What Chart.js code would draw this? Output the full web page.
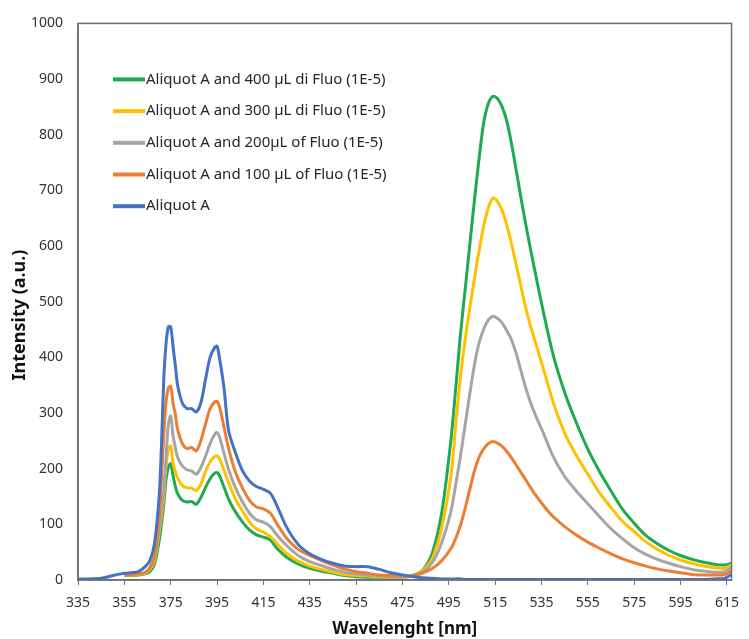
<!DOCTYPE html>
<html>
<head>
<meta charset="utf-8">
<title>Fluorescence spectra</title>
<script src="https://cdn.jsdelivr.net/npm/chart.js@4.4.1/dist/chart.umd.min.js"></script>
<style>
  html, body { margin: 0; padding: 0; background: #fff; }
  #wrap { width: 749px; height: 639px; }
</style>
</head>
<body>
<div id="wrap"><canvas id="spectrumChart" width="749" height="639"></canvas></div>
<script>
// Wavelength (nm), one row of 10 per line
const wavelengths = [
  335, 340, 345, 350, 355, 358, 361, 364, 366, 368,
  370, 371, 372, 373, 374, 375, 376, 377, 378, 380,
  382, 384, 386, 388, 390, 392, 394, 395, 396, 398,
  400, 403, 406, 409, 412, 415, 418, 421, 425, 430,
  435, 440, 445, 450, 455, 460, 465, 470, 475, 480,
  484, 488, 492, 496, 498, 500, 502, 504, 506, 508,
  510, 512, 514, 516, 518, 520, 522, 524, 526, 528,
  530, 532, 536, 540, 545, 550, 555, 560, 565, 570,
  575, 580, 585, 590, 595, 600, 605, 610, 614, 617
];

// Intensity (a.u.) per series
const aliquotA = [
  2, 2, 3, 8, 12, 13, 15, 24, 35, 65,
  150, 240, 360, 425, 455, 455, 420, 385, 350, 318,
  308, 308, 302, 318, 360, 400, 418, 420, 400, 345,
  268, 228, 196, 178, 168, 163, 156, 132, 95, 64,
  47, 37, 30, 25, 24, 24, 19, 13, 9, 6,
  4, 3, 2, 2, 2, 2, 1, 1, 1, 1,
  1, 1, 1, 1, 1, 1, 1, 1, 1, 1,
  1, 1, 1, 1, 1, 1, 1, 1, 1, 1,
  1, 1, 1, 1, 1, 1, 1, 2, 3, 10
];

const fluo100 = [
  null, null, null, null, 10, 10, 11, 14, 22, 45,
  110, 180, 260, 320, 345, 348, 318, 298, 270, 245,
  236, 238, 232, 250, 280, 308, 320, 321, 312, 275,
  236, 193, 165, 143, 131, 128, 120, 100, 75, 55,
  44, 35, 27, 20, 15, 12, 9, 8, 7, 8,
  13, 21, 35, 57, 75, 98, 128, 162, 195, 220,
  235, 245, 249, 246, 240, 231, 220, 207, 194, 181,
  168, 155, 133, 114, 96, 81, 68, 57, 47, 38,
  31, 25, 20, 16, 13, 10, 9, 9, 10, 16
];

const fluo200 = [
  null, null, null, null, 10, 10, 11, 13, 20, 40,
  90, 125, 160, 220, 280, 295, 260, 238, 220, 205,
  198, 196, 190, 202, 222, 245, 262, 265, 258, 228,
  198, 165, 140, 120, 108, 104, 96, 80, 62, 44,
  33, 26, 19, 14, 11, 9, 7, 6, 6, 7,
  15, 32, 68, 125, 172, 222, 277, 333, 385, 425,
  450, 467, 474, 470, 462, 448, 432, 408, 378, 348,
  322, 300, 262, 222, 186, 160, 137, 114, 92, 74,
  58, 46, 37, 30, 24, 19, 16, 14, 15, 22
];

const fluo300 = [
  null, null, null, null, 9, 9, 10, 12, 18, 35,
  85, 115, 150, 205, 235, 241, 210, 195, 183, 170,
  166, 165, 161, 172, 195, 212, 222, 223, 218, 197,
  175, 145, 124, 104, 92, 86, 78, 65, 48, 34,
  25, 19, 14, 10, 8, 7, 6, 5, 5, 8,
  18, 40, 95, 190, 280, 365, 430, 488, 540, 590,
  635, 668, 686, 680, 664, 638, 605, 568, 530, 492,
  460, 432, 377, 320, 264, 224, 190, 157, 130, 105,
  87, 69, 55, 44, 36, 30, 25, 22, 21, 27
];

const fluo400 = [
  null, null, null, null, 8, 8, 9, 11, 15, 28,
  70, 100, 135, 180, 203, 209, 188, 168, 155, 143,
  140, 141, 136, 148, 166, 182, 192, 193, 188, 167,
  145, 122, 104, 90, 81, 77, 72, 56, 41, 29,
  21, 16, 12, 8, 6, 5, 5, 5, 5, 9,
  19, 50, 122, 255, 345, 440, 520, 600, 680, 755,
  820, 855, 869, 865, 850, 825, 785, 738, 690, 643,
  600, 558, 478, 405, 337, 283, 235, 195, 160, 127,
  102, 80, 65, 53, 44, 37, 32, 28, 27, 30
];

const seriesNames = [
  "Aliquot A",
  "Aliquot A and 100 µL of Fluo (1E-5)",
  "Aliquot A and 200µL of Fluo (1E-5)",
  "Aliquot A and 300 µL di Fluo (1E-5)",
  "Aliquot A and 400 µL di Fluo (1E-5)"
];
const seriesValues = [aliquotA, fluo100, fluo200, fluo300, fluo400];
const seriesColors = ["#4472C4", "#ED7D31", "#A5A5A5", "#FFC000", "#1EAA50"];

const xTicks = [335, 355, 375, 395, 415, 435, 455, 475, 495, 515, 535, 555, 575, 595, 615];
const yTitle = "Intensity (a.u.)";

const FONT = "'Noto Sans', 'DejaVu Sans', sans-serif";
const AXIS_COLOR = "#6e6e6e";

// legend inside the plot, 400 µL on top
const insideLegend = {
  id: "insideLegend",
  afterDatasetsDraw(chart) {
    const ctx = chart.ctx;
    const area = chart.chartArea;
    ctx.save();
    ctx.font = "15px " + FONT;
    ctx.textBaseline = "middle";
    ctx.fillStyle = "#262626";
    for (let row = 0; row < seriesNames.length; row++) {
      const i = seriesNames.length - 1 - row;
      const y = area.top + 56 + row * 31.7;
      ctx.strokeStyle = seriesColors[i];
      ctx.lineWidth = 4;
      ctx.beginPath();
      ctx.moveTo(area.left + 35, y);
      ctx.lineTo(area.left + 67, y);
      ctx.stroke();
      ctx.fillText(seriesNames[i], area.left + 68, y);
    }
    ctx.restore();
  }
};

// box around the plot area + y title (sits a bit below centre in the original)
const plotFrame = {
  id: "plotFrame",
  afterDraw(chart) {
    const ctx = chart.ctx;
    const a = chart.chartArea;
    ctx.save();
    ctx.strokeStyle = AXIS_COLOR;
    ctx.lineWidth = 1.5;
    ctx.strokeRect(a.left, a.top, a.right - a.left, a.bottom - a.top);
    ctx.translate(20, 315);
    ctx.rotate(-Math.PI / 2);
    ctx.font = "bold 18px " + FONT;
    ctx.fillStyle = "#111";
    ctx.textAlign = "center";
    ctx.textBaseline = "middle";
    ctx.fillText(yTitle, 0, 0);
    ctx.restore();
  }
};

const ctx = document.getElementById("spectrumChart").getContext("2d");

new Chart(ctx, {
  type: "line",
  data: {
    datasets: seriesValues.map((vals, i) => ({
      label: seriesNames[i],
      data: wavelengths.map((w, j) => ({ x: w, y: vals[j] })).filter(p => p.y !== null),
      borderColor: seriesColors[i],
      backgroundColor: seriesColors[i],
      borderWidth: 3,
      pointRadius: 0,
      tension: 0.3,
      fill: false
    }))
  },
  options: {
    responsive: false,
    animation: false,
    layout: { padding: { top: 20, right: 11, left: 0, bottom: 0 } },
    plugins: {
      legend: { display: false },
      tooltip: { enabled: false }
    },
    scales: {
      x: {
        type: "linear",
        min: 335,
        max: 617,
        afterBuildTicks: axis => { axis.ticks = xTicks.map(v => ({ value: v })); },
        afterFit: axis => { axis.height = 59; },
        grid: { drawOnChartArea: false, drawTicks: true, tickLength: 5, color: AXIS_COLOR },
        border: { display: true, color: AXIS_COLOR, width: 1.5 },
        ticks: {
          autoSkip: false,
          maxRotation: 0,
          padding: 10,
          color: "#333",
          font: { family: FONT, size: 14 },
          callback: v => String(v)
        },
        title: {
          display: true,
          text: "Wavelenght [nm]",
          color: "#111",
          padding: { top: 0, bottom: 0 },
          font: { family: FONT, size: 17, weight: "bold" }
        }
      },
      y: {
        min: 0,
        max: 1000,
        afterFit: axis => { axis.width = 78; },
        grid: { display: false, drawTicks: false },
        border: { display: true, color: AXIS_COLOR, width: 1.5 },
        ticks: {
          stepSize: 100,
          padding: 15,
          color: "#333",
          font: { family: FONT, size: 14 },
          callback: v => String(v)
        }
      }
    }
  },
  plugins: [insideLegend, plotFrame]
});
</script>
</body>
</html>
